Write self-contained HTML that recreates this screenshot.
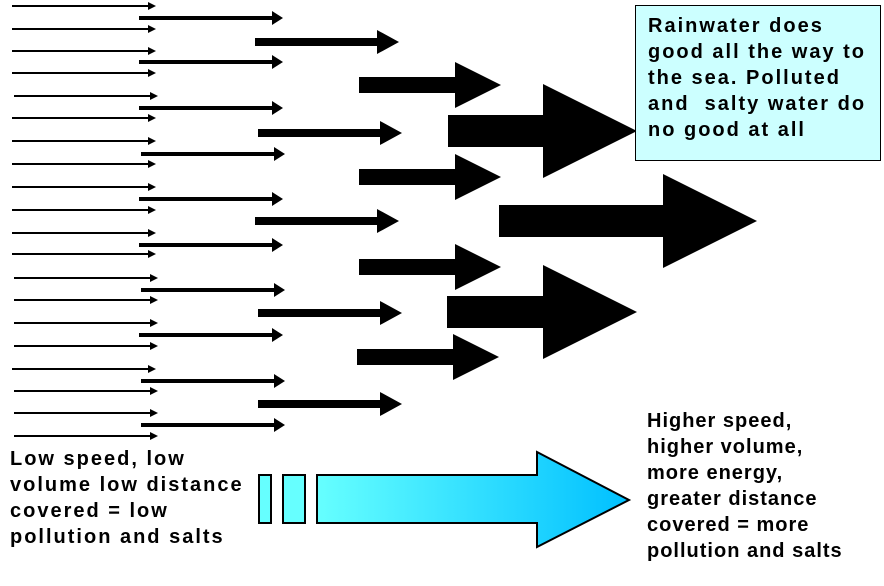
<!DOCTYPE html>
<html><head><meta charset="utf-8"><style>
body{margin:0;width:884px;height:586px;background:#fff;overflow:hidden;position:relative;font-family:"Liberation Sans",Arial,sans-serif}
.t{position:absolute;font-weight:bold;font-size:20px;line-height:26px;color:#000;letter-spacing:2px;white-space:nowrap}
</style></head><body>
<svg width="884" height="586" style="position:absolute;left:0;top:0">
<defs><linearGradient id="g2" x1="317" x2="629" y1="0" y2="0" gradientUnits="userSpaceOnUse"><stop offset="0" stop-color="#66ffff"/><stop offset="1" stop-color="#00c0ff"/></linearGradient></defs>
<g fill="#000">
<path d="M12 5h136v-3l8 4-8 4v-3h-136z"/>
<path d="M12 28h136v-3l8 4-8 4v-3h-136z"/>
<path d="M12 50h136v-3l8 4-8 4v-3h-136z"/>
<path d="M12 72h136v-3l8 4-8 4v-3h-136z"/>
<path d="M14 95h136v-3l8 4-8 4v-3h-136z"/>
<path d="M12 117h136v-3l8 4-8 4v-3h-136z"/>
<path d="M12 140h136v-3l8 4-8 4v-3h-136z"/>
<path d="M12 163h136v-3l8 4-8 4v-3h-136z"/>
<path d="M12 186h136v-3l8 4-8 4v-3h-136z"/>
<path d="M12 209h136v-3l8 4-8 4v-3h-136z"/>
<path d="M12 232h136v-3l8 4-8 4v-3h-136z"/>
<path d="M12 253h136v-3l8 4-8 4v-3h-136z"/>
<path d="M14 277h136v-3l8 4-8 4v-3h-136z"/>
<path d="M14 299h136v-3l8 4-8 4v-3h-136z"/>
<path d="M14 322h136v-3l8 4-8 4v-3h-136z"/>
<path d="M14 345h136v-3l8 4-8 4v-3h-136z"/>
<path d="M12 368h136v-3l8 4-8 4v-3h-136z"/>
<path d="M14 390h136v-3l8 4-8 4v-3h-136z"/>
<path d="M14 412h136v-3l8 4-8 4v-3h-136z"/>
<path d="M14 435h136v-3l8 4-8 4v-3h-136z"/>
<path d="M139 16h133v-5l11 7-11 7v-5h-133z"/>
<path d="M139 60h133v-5l11 7-11 7v-5h-133z"/>
<path d="M139 106h133v-5l11 7-11 7v-5h-133z"/>
<path d="M141 152h133v-5l11 7-11 7v-5h-133z"/>
<path d="M139 197h133v-5l11 7-11 7v-5h-133z"/>
<path d="M139 243h133v-5l11 7-11 7v-5h-133z"/>
<path d="M141 288h133v-5l11 7-11 7v-5h-133z"/>
<path d="M139 333h133v-5l11 7-11 7v-5h-133z"/>
<path d="M141 379h133v-5l11 7-11 7v-5h-133z"/>
<path d="M141 423h133v-5l11 7-11 7v-5h-133z"/>
<path d="M255 38h122v-8l22 12-22 12v-8h-122z"/>
<path d="M258 129h122v-8l22 12-22 12v-8h-122z"/>
<path d="M255 217h122v-8l22 12-22 12v-8h-122z"/>
<path d="M258 309h122v-8l22 12-22 12v-8h-122z"/>
<path d="M258 400h122v-8l22 12-22 12v-8h-122z"/>
<path d="M359 77h96v-15l46 23-46 23v-15h-96z"/>
<path d="M359 169h96v-15l46 23-46 23v-15h-96z"/>
<path d="M359 259h96v-15l46 23-46 23v-15h-96z"/>
<path d="M357 349h96v-15l46 23-46 23v-15h-96z"/>
<path d="M448 115h95v-31l94 47-94 47v-31h-95z"/>
<path d="M447 296h96v-31l94 47-94 47v-31h-96z"/>
<path d="M499 205h164v-31l94 47-94 47v-31h-164z"/>
</g>
<rect x="259" y="475" width="12" height="48" fill="#66ffff" stroke="#000" stroke-width="2"/>
<rect x="283" y="475" width="22" height="48" fill="#66ffff" stroke="#000" stroke-width="2"/>
<path d="M317 475h220v-23l92 48-92 47v-24h-220z" fill="url(#g2)" stroke="#000" stroke-width="2"/>
<rect x="635.5" y="5.5" width="245" height="155" fill="#ccffff" stroke="#000" stroke-width="1"/>
</svg>
<div class="t" style="left:648px;top:13px;">Rainwater does<br>good all the way to<br>the sea. Polluted<br>and&nbsp; salty water do<br>no good at all</div>
<div class="t" style="left:10px;top:446px;">Low speed, low<br>volume low distance<br>covered = low<br>pollution and salts</div>
<div class="t" style="left:647px;top:408px;letter-spacing:1px;">Higher speed,<br>higher volume,<br>more energy,<br>greater distance<br>covered = more<br>pollution and salts</div>
</body></html>
